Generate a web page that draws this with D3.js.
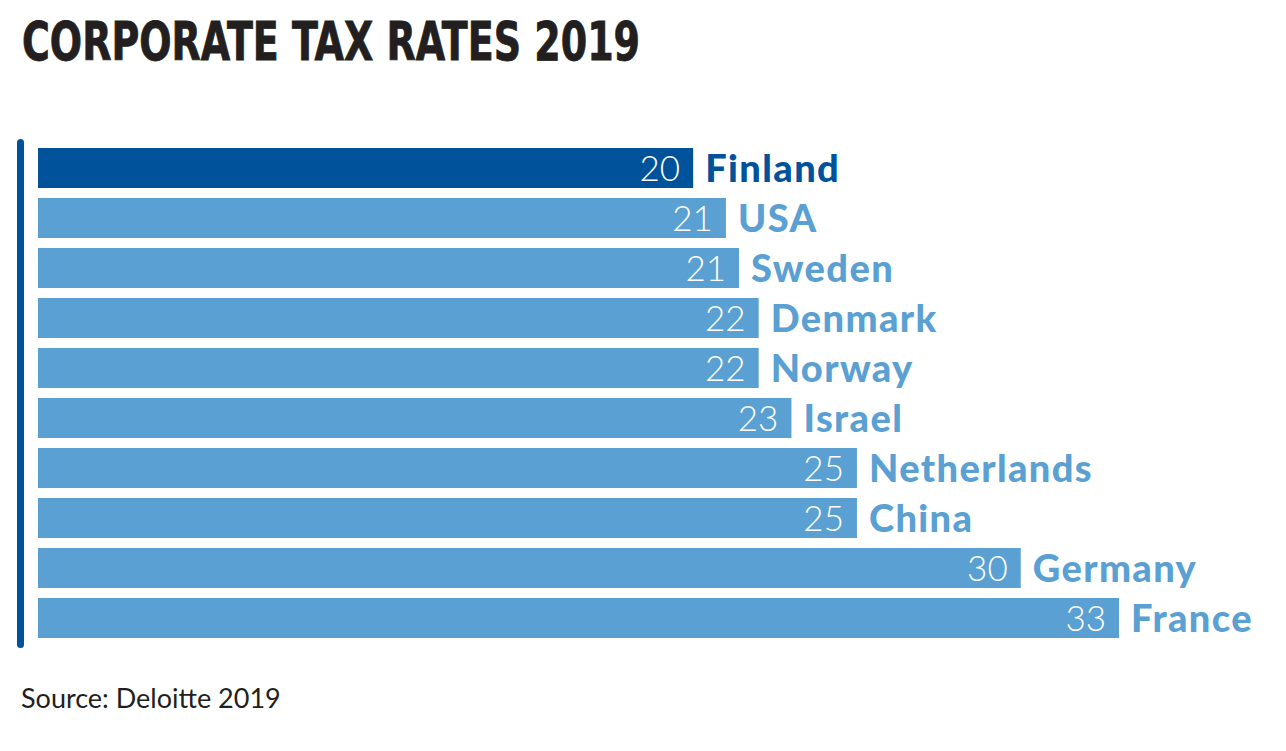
<!DOCTYPE html>
<html><head><meta charset="utf-8">
<script src="https://cdn.jsdelivr.net/npm/d3@7"></script>
<style>html,body{margin:0;padding:0;background:#fff;}svg{display:block;}</style>
</head><body>
<script>
const countries = ["Finland","USA","Sweden","Denmark","Norway","Israel","Netherlands","China","Germany","France"];
const rates = [20, 21, 21.4, 22, 22, 23, 25, 25, 30, 33];
const valueLabels = ["20","21","21","22","22","23","25","25","30","33"];
const highlight = "Finland";
const titleText = "CORPORATE TAX RATES 2019";
const sourceText = "Source: Deloitte 2019";

const W = 1286, H = 751;
const dark = "#00529b", light = "#5aa0d2", ink = "#231f20";
const svg = d3.select("body").append("svg").attr("width", W).attr("height", H);

const x = d3.scaleLinear().domain([0, 33]).range([38, 1119]);
const y = d3.scaleBand().domain(countries).range([143, 643]).paddingInner(0.2).paddingOuter(0.1);

const data = countries.map((c, i) => ({c, v: rates[i], l: valueLabels[i]}));

// title
svg.append("text").attr("x", 22).attr("y", 60)
  .attr("font-family", "'DejaVu Sans Condensed','DejaVu Sans',sans-serif")
  .attr("font-weight", "bold").attr("font-size", 53).attr("fill", ink)
  .attr("stroke", ink).attr("stroke-width", 0.8)
  .attr("textLength", 618).attr("lengthAdjust", "spacingAndGlyphs")
  .text(titleText);

// axis line
svg.append("line").attr("x1", 20.5).attr("x2", 20.5).attr("y1", 142.5).attr("y2", 644.5)
  .attr("stroke", dark).attr("stroke-width", 7).attr("stroke-linecap", "round");

const g = svg.append("g");
g.selectAll("rect").data(data).join("rect")
  .attr("x", x(0)).attr("y", d => y(d.c))
  .attr("width", d => x(d.v) - x(0)).attr("height", y.bandwidth())
  .attr("fill", d => d.c === highlight ? dark : light);

g.selectAll("text.val").data(data).join("text").attr("class", "val")
  .attr("x", d => x(d.v) - 13).attr("y", d => y(d.c) + y.bandwidth() / 2)
  .attr("dy", "0.36em").attr("text-anchor", "end")
  .attr("font-family", "Lato, sans-serif").attr("font-weight", 300).attr("font-size", 35)
  .attr("fill", "#fff").text(d => d.l);

g.selectAll("text.name").data(data).join("text").attr("class", "name")
  .attr("x", d => x(d.v) + 12).attr("y", d => y(d.c) + y.bandwidth() / 2)
  .attr("dy", "0.36em")
  .attr("font-family", "Lato, sans-serif").attr("font-weight", 900).attr("font-size", 38)
  .attr("letter-spacing", 1.4)
  .attr("fill", d => d.c === highlight ? dark : light).text(d => d.c);

svg.append("text").attr("x", 21).attr("y", 708)
  .attr("font-family", "Lato, sans-serif").attr("font-size", 27).attr("fill", ink)
  .text(sourceText);
</script>
</body></html>
